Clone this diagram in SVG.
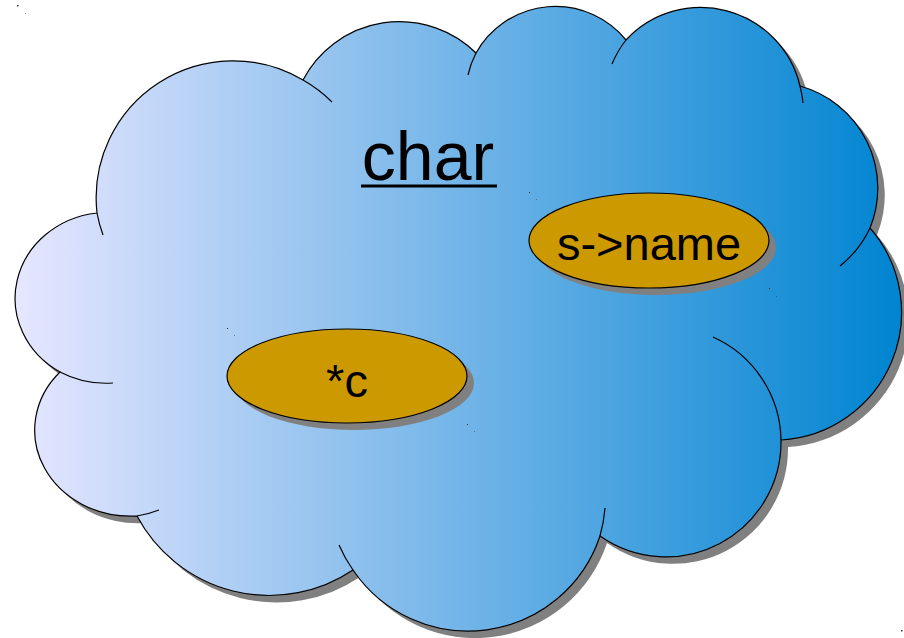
<svg xmlns="http://www.w3.org/2000/svg" width="904" height="638" viewBox="0 0 904 638">
  <defs>
    <linearGradient id="cloudGrad" gradientUnits="userSpaceOnUse" x1="17" y1="0" x2="901" y2="0">
      <stop offset="0" stop-color="#e6e6ff"/>
      <stop offset="1" stop-color="#0084d1"/>
    </linearGradient>
    <path id="cloudOutline" d="M97,213 A137,137 0 0,1 303,80 A109,109 0 0,1 476,53 A91,91 0 0,1 626,40 A102,102 0 0,1 800,86 A106,106 0 0,1 870,228 A128,128 0 0,1 781,440 A115,115 0 0,1 600,536 A139,139 0 0,1 353,570 A150,150 0 0,1 137,516 A96,86 0 0,1 60,372 A93,86 0 0,1 97,213 Z"/>
  </defs>
  <style>
    .shadow { fill: #808080; stroke: none; }
    .line { fill: none; stroke: #000000; stroke-width: 1.2; }
    .oval { fill: #cc9900; stroke: #000000; stroke-width: 1.2; }
    .label { font-family: "Liberation Sans", Arial, sans-serif; fill: #000000; text-anchor: middle; }
    .dot { fill: #333333; }
  </style>
  <rect width="904" height="638" fill="#ffffff"/>

  <g id="cloud">
    <use href="#cloudOutline" class="shadow" transform="translate(7,7)"/>
    <use href="#cloudOutline" fill="url(#cloudGrad)" stroke="#000000" stroke-width="1.2"/>
    <path class="line" d="M303,80 A137,137 0 0,1 332,102"/>
    <path class="line" d="M103,235 A137,137 0 0,1 97,213"/>
    <path class="line" d="M468,75 A91,91 0 0,1 476,53"/>
    <path class="line" d="M612,64 A102,102 0 0,1 626,40"/>
    <path class="line" d="M800,86 A102,102 0 0,1 803,103"/>
    <path class="line" d="M870,228 A106,106 0 0,1 840,266"/>
    <path class="line" d="M713,337 A115,115 0 0,1 781,440"/>
    <path class="line" d="M605,508 A139,139 0 0,1 600,536"/>
    <path class="line" d="M353,570 A139,139 0 0,1 339,545"/>
    <path class="line" d="M159,510 A96,86 0 0,1 137,516"/>
    <path class="line" d="M113,383 A93,86 0 0,1 60,372"/>
  </g>

  <g id="title">
    <text class="label" x="428" y="180" font-size="68">char</text>
    <rect x="361" y="184.5" width="136" height="3" fill="#000000"/>
  </g>

  <g id="node-sname">
    <ellipse class="shadow" cx="656" cy="247.5" rx="120" ry="47.5"/>
    <ellipse class="oval" cx="649" cy="240.5" rx="120" ry="47.5"/>
    <text class="label" x="649" y="260" font-size="47">s-&gt;name</text>
  </g>

  <g id="node-c">
    <ellipse class="shadow" cx="354" cy="383" rx="120" ry="47"/>
    <ellipse class="oval" cx="347" cy="376" rx="120" ry="47"/>
    <text class="label" x="347" y="397" font-size="47">*c</text>
  </g>

  <g id="connectors"/>

  <g id="marks">
    <rect class="dot" x="17" y="5" width="1.5" height="1.5"/>
    <rect class="dot" x="25" y="13" width="1" height="1" opacity="0.5"/>
    <rect class="dot" x="529" y="192" width="1" height="1"/>
    <rect class="dot" x="536" y="199" width="1" height="1" opacity="0.5"/>
    <rect class="dot" x="769" y="288" width="1" height="1"/>
    <rect class="dot" x="776" y="296" width="1" height="1" opacity="0.5"/>
    <rect class="dot" x="227" y="328" width="1" height="1"/>
    <rect class="dot" x="234" y="335" width="1" height="1" opacity="0.5"/>
    <rect class="dot" x="467" y="424" width="1" height="1"/>
    <rect class="dot" x="474" y="431" width="1" height="1" opacity="0.5"/>
    <rect class="dot" x="901" y="630" width="1.5" height="1.5"/>
  </g>
</svg>
